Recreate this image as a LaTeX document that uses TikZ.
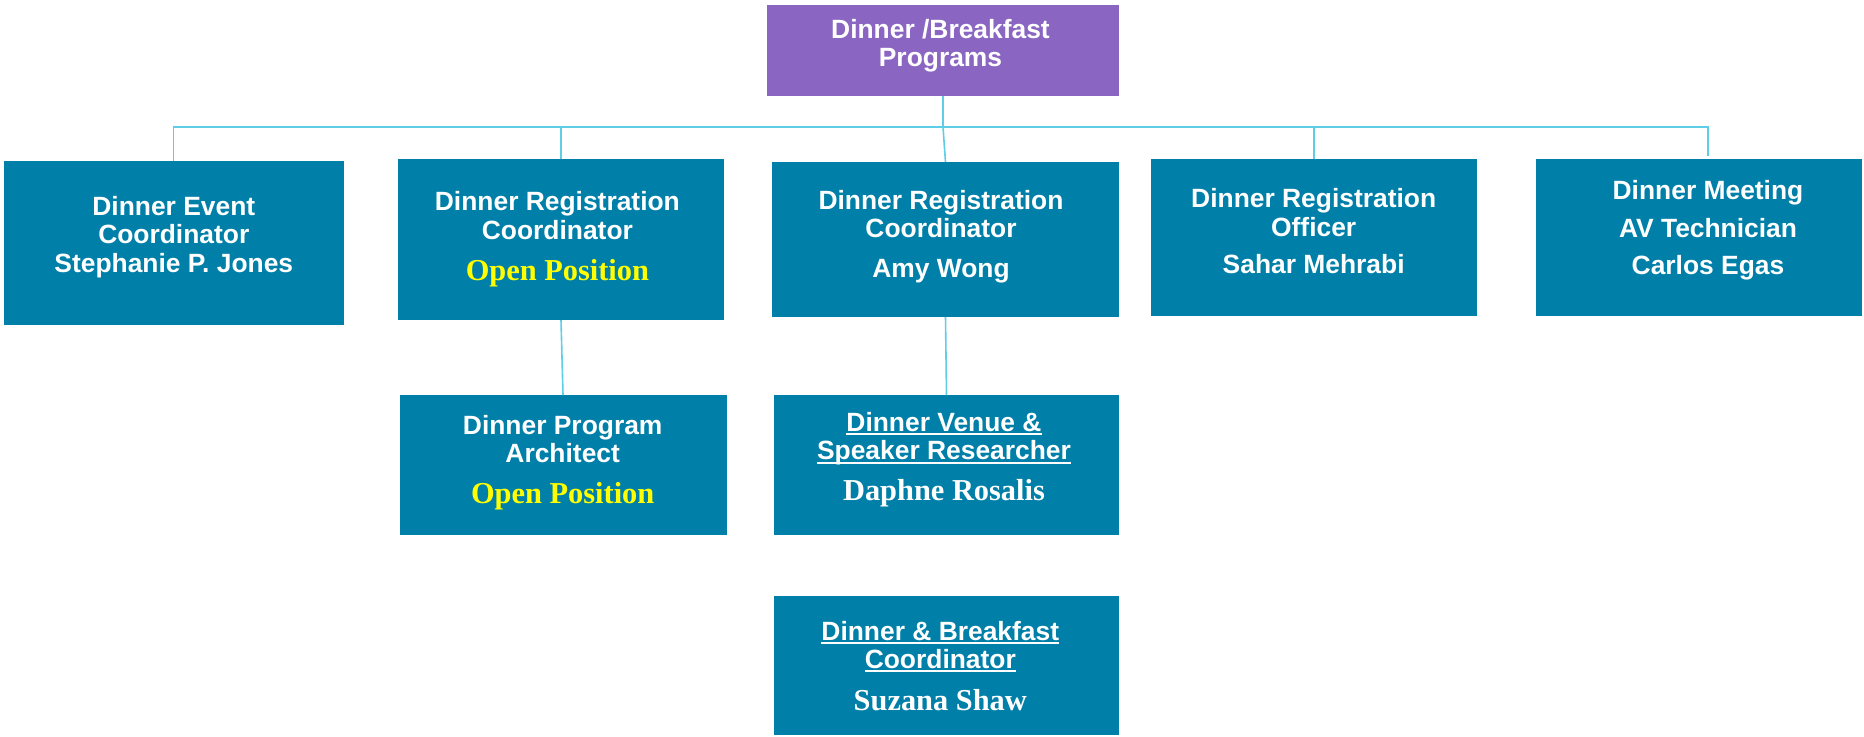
\documentclass[tikz,border=0pt]{standalone}
\usepackage{fontspec}
\setmainfont{Liberation Sans}
\newfontfamily\tmsfont{Liberation Serif}
\definecolor{boxteal}{HTML}{007FA8}
\definecolor{boxpurple}{HTML}{8A66C2}
\definecolor{linkcyan}{HTML}{5ECDE6}
\definecolor{openyellow}{HTML}{FFFF00}
\newsavebox\ulsave
\newcommand\myul[1]{\sbox\ulsave{#1}\rlap{\rule[-2pt]{\wd\ulsave}{1pt}}\usebox\ulsave}
\newcommand\tmsline[1]{{\tmsfont\fontsize{15.2}{14.2}\selectfont #1}}
\newcommand\openpos{\textcolor{openyellow}{\tmsline{Open Position}}}
\begin{document}
\begin{tikzpicture}[x=0.5pt,y=-0.5pt,
  orgbox/.style={fill=boxteal, draw=none, inner sep=0pt, outer sep=0pt},
  topbox/.style={fill=boxpurple, draw=none, inner sep=0pt, outer sep=0pt},
  boxtext/.style={text=white, font=\bfseries\fontsize{13.2}{14.2}\selectfont, align=center, inner sep=0pt},
  link/.style={draw=linkcyan, line width=0.8pt}]
\useasboundingbox (0,0) rectangle (1864,736);
% boxes
\node[topbox, minimum width=176pt, minimum height=45.5pt] (top) at (943,50.5) {};
\node[orgbox, minimum width=170pt, minimum height=82pt] (b1) at (173.6,242.5) {};
\node[orgbox, minimum width=163pt, minimum height=80.5pt] (b2) at (561,239.5) {};
\node[orgbox, minimum width=173.5pt, minimum height=77.5pt] (b3) at (945.5,239.5) {};
\node[orgbox, minimum width=163pt, minimum height=78.5pt] (b4) at (1314,237.5) {};
\node[orgbox, minimum width=163pt, minimum height=78.5pt] (b5) at (1699,237.5) {};
\node[orgbox, minimum width=163.5pt, minimum height=70pt] (b6) at (563,465) {};
\node[orgbox, minimum width=172.5pt, minimum height=70pt] (b7) at (946.5,465) {};
\node[orgbox, minimum width=172.5pt, minimum height=69.5pt] (b8) at (946.5,665.5) {};
% connectors
\coordinate (hl) at (0,127);
\coordinate (b5top) at (1708,156);
\draw[link] (b1.north) -- (b1.north |- hl) -- (b5top |- hl) -- (b5top);
\draw[link] (top.south) -- (top.south |- hl) -- (b3.north);
\draw[link] (b2.north |- hl) -- (b2.north);
\draw[link] (b4.north |- hl) -- (b4.north);
\draw[link] (b2.south) -- (b6.north);
\draw[link] (b3.south) -- (b7.north);
% texts
\node[boxtext] (ttop) at (940.5,45.8) {Dinner /Breakfast\\Programs};
\node[boxtext] (t1) at (173.8,236.8) {Dinner Event\\Coordinator\\Stephanie P. Jones};
\node[boxtext] (t2) at (557.4,239.3) {Dinner Registration\\Coordinator\\[6.5pt]\openpos};
\node[boxtext] (t3) at (941,236.6) {Dinner Registration\\Coordinator\\[5.5pt]Amy Wong};
\node[boxtext] (t4) at (1313.7,231) {Dinner Registration\\Officer\\[4.4pt]Sahar Mehrabi};
\node[boxtext] (t5) at (1708,230.1) {Dinner Meeting\\[4.8pt]AV Technician\\[4.3pt]Carlos Egas};
\node[boxtext] (t6) at (562.7,462.3) {Dinner Program\\Architect\\[6pt]\openpos};
\node[boxtext] (t7) at (944,459.3) {\myul{Dinner Venue \&}\\\myul{Speaker Researcher}\\[6pt]\tmsline{Daphne Rosalis}};
\node[boxtext] (t8) at (940.3,666) {\myul{Dinner \& Breakfast}\\\myul{Coordinator}\\[6.9pt]\tmsline{Suzana Shaw}};
\end{tikzpicture}
\end{document}
